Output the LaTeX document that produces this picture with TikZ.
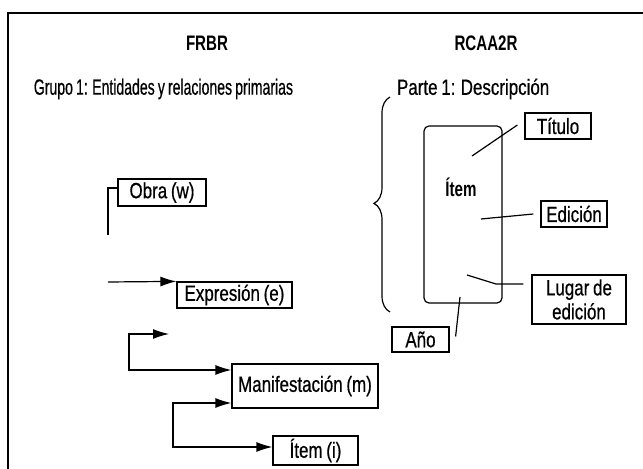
\documentclass[tikz,border=0pt]{standalone}
\usepackage{fontspec}
\setmainfont{Liberation Sans}[FakeStretch=0.77, WordSpace=0.8,
  UprightFeatures={FakeBold=0.6}, BoldFeatures={FakeStretch=0.72}]
\usetikzlibrary{arrows.meta,decorations.pathreplacing}

\begin{document}
\begin{tikzpicture}[x=0.5pt,y=-0.5pt,
    font=\fontsize{11}{12}\selectfont,
    titulo/.style={font=\fontsize{10.5}{12}\selectfont\bfseries},
    caja/.style={draw, line width=0.6pt, inner sep=0pt, align=center},
    flecha/.style={line width=0.6pt, -{Latex[length=8pt,width=5pt]}},
    dobleflecha/.style={line width=0.6pt, {Latex[length=8pt,width=5pt]}-{Latex[length=8pt,width=5pt]}},
    linea/.style={line width=0.6pt}] % 1 unit = 1 px of the original

        \useasboundingbox (0,0) rectangle (643,469);

        % Frame
        \draw[line width=1pt] (8,469) -- (8,13) -- (643,13);

        % Headings
        \node[titulo] (frbr) at (207,43) {FRBR};
        \node[titulo] (rcaa) at (486,43) {RCAA2R};
        \node[anchor=west, xscale=0.83, transform shape] (grupo) at (28,89) {Grupo 1: Entidades y relaciones primarias};
        \node[anchor=west] (parte) at (390,89) {Parte 1: Descripción};

        % FRBR entities
        \node[caja, minimum width=44pt, minimum height=13.5pt] (obra) at (162,192.5) {Obra (w)};
        \node[caja, minimum width=57.5pt, minimum height=13pt] (expr) at (234.5,295) {Expresión (e)};
        \node[caja, minimum width=73pt, minimum height=22pt] (manif) at (305,386) {Manifestación (m)};
        \node[caja, minimum width=42.5pt, minimum height=14.5pt] (itemi) at (315.5,450.5) {Ítem (i)};

        \coordinate (w0) at (108,235);
        \coordinate (e0) at (108,282);
        \coordinate (m0) at (169,334);
        \coordinate (c1) at (129,370);
        \coordinate (c2) at (173,447);

        \draw[linea] (w0) |- (obra.west |- 0,188);
        \draw[flecha] (e0) -- (expr.north west);
        \draw[dobleflecha] (m0) -| (c1) -- (manif.west |- c1);
        \draw[dobleflecha] (manif.west |- 0,403) -| (c2) -- (itemi.west |- c2);

        % RCAA2R description
        \draw[linea, decorate, decoration={brace, amplitude=8pt, aspect=0.505}] (390,312) -- (390,97);
        \node[draw, line width=0.6pt, rounded corners=2.5pt, minimum width=39pt, minimum height=88.5pt] (item) at (463,214.5) {};
        \node[titulo] (itemtxt) at (461,187) {Ítem};

        \node[caja, minimum width=33pt, minimum height=13pt] (tit) at (558,126) {Título};
        \node[caja, minimum width=33pt, minimum height=13pt] (edicion) at (574,214) {Edición};
        \node[caja, minimum width=47pt, minimum height=24.5pt] (lugar) at (579,299.5) {Lugar de\\edición};
        \node[caja, minimum width=28.5pt, minimum height=12.5pt] (anio) at (420.5,339.5) {Año};

        \coordinate (t0) at (472,156);
        \coordinate (d0) at (481,219);
        \coordinate (l0) at (496,284);
        \coordinate (l1) at (467,275);
        \coordinate (a0) at (460,297);

        \draw[linea] (tit.west) ++(-7,-1) -- (t0);
        \draw[linea] (edicion.west) ++(-7,0) -- (d0);
        \draw[linea] (lugar.west |- l0) ++(-8,0) -- (l0) -- (l1);
        \draw[linea] (anio.east) ++(6,-3) -- (a0);
    \end{tikzpicture}
\end{document}
